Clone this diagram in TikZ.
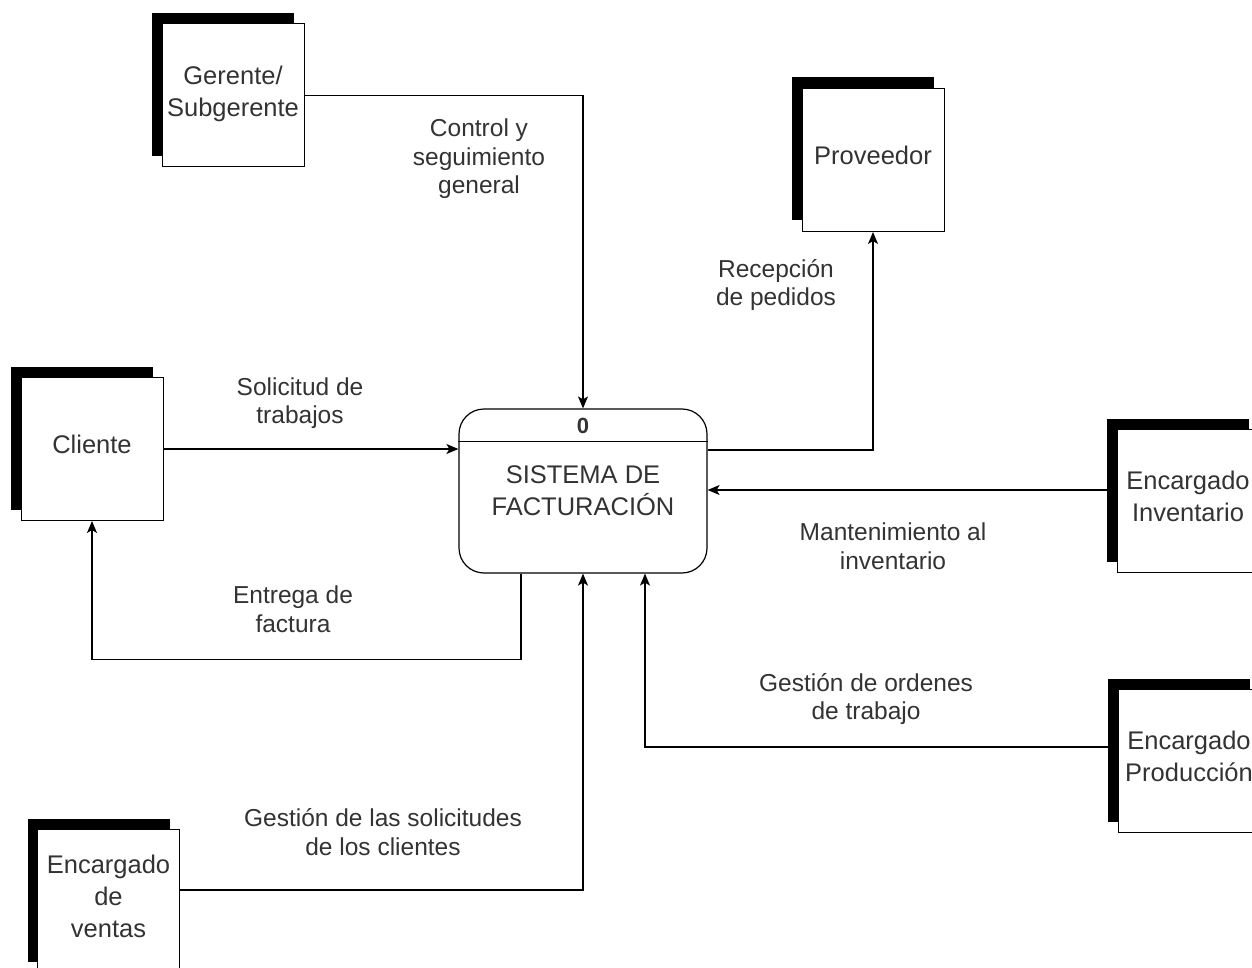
\documentclass[tikz,border=0pt]{standalone}
\usepackage{fontspec}
\setmainfont{Liberation Sans}
\usetikzlibrary{arrows.meta,shadows}
\definecolor{txt}{HTML}{333333}
\begin{document}
\begin{tikzpicture}[x=1pt,y=-1pt,
  entity/.style={draw=black,line width=1pt,fill=white,minimum width=142pt,minimum height=143pt,
    inner sep=0pt,align=center,text=txt,font=\fontsize{25.5}{32}\selectfont,text depth=9pt,
    general shadow={fill=black,shadow xshift=-10pt,shadow yshift=11pt}},
  process/.style={draw=black,line width=1.2pt,fill=white,rounded corners=25pt,minimum width=248pt,
    minimum height=164pt,inner sep=0pt,align=center,text=txt,font=\fontsize{25.5}{32}\selectfont},
  flowlbl/.style={align=center,text=txt,font=\fontsize{24.5}{28.5}\selectfont,inner sep=0pt},
  flow/.style={line width=1.3pt,-{Stealth[length=12pt,width=10pt,inset=3pt]}}]
\useasboundingbox (0,0) rectangle (1252,968);
\clip (0,0) rectangle (1252,968);
\fill[white] (0,0) rectangle (1252,968);

\node[entity] (ger) at (233,95.5) {Gerente/\\Subgerente};
\node[entity] (prov) at (873,160) {Proveedor};
\node[entity] (cli) at (92,449) {Cliente};
\node[entity] (inv) at (1188,501) {Encargado\\Inventario};
\node[entity] (prod) at (1189,761) {Encargado\\Producción};
\node[entity] (ven) at (108.5,901) {Encargado\\de\\ventas};

\node[process] (proc) at (583,491) {SISTEMA DE\\FACTURACIÓN};
\draw[line width=1.2pt] ([yshift=-33pt]proc.north west) -- ([yshift=-33pt]proc.north east);
\node[text=txt,font=\fontsize{22}{26}\bfseries] (num) at (583,426) {0};

\draw[flow] (ger.east) -| (proc.north);
\draw[flow] ([yshift=41pt]proc.east) -| (prov.south);
\draw[flow] (cli.east) -- (cli.east -| proc.west);
\draw[flow] ([xshift=-62pt]proc.south) -- ++(0,86) -| (cli.south);
\draw[flow] ([yshift=1pt]proc.east -| inv.west) -- ([yshift=1pt]proc.east);
\draw[flow] ([yshift=14pt]prod.west) -| ([xshift=62pt]proc.south);
\draw[flow] ([yshift=11pt]ven.east) -| (proc.south);

\node[flowlbl] (l1) at (479,159) {Control y\\seguimiento\\general};
\node[flowlbl] (l2) at (776,285) {Recepción\\de pedidos};
\node[flowlbl] (l3) at (300,403) {Solicitud de\\trabajos};
\node[flowlbl] (l4) at (893,546) {Mantenimiento al\\inventario};
\node[flowlbl] (l5) at (293,609) {Entrega de\\factura};
\node[flowlbl] (l6) at (866,699) {Gestión de ordenes\\de trabajo};
\node[flowlbl] (l7) at (383,832) {Gestión de las solicitudes\\de los clientes};
\end{tikzpicture}
\end{document}
